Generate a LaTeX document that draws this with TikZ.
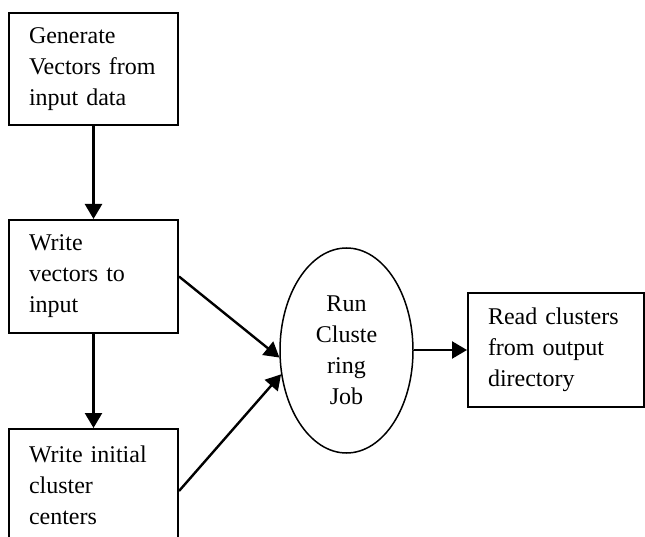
\documentclass[tikz,border=0pt]{standalone}
\usepackage{fontspec}
\setmainfont{Liberation Serif}
\usetikzlibrary{shapes.geometric, positioning, arrows.meta}

\begin{document}
\begin{tikzpicture}[x=1pt, y=-1pt,
  font=\fontsize{24}{31}\selectfont,
  stepbox/.style={draw, line width=2pt, anchor=north west, align=left,
                  text width=129pt, inner xsep=20pt, inner ysep=0pt},
  flow/.style={line width=2.4pt, -{Triangle[length=15pt, width=17pt]}}]

% --- Canvas (same size as the reference page) --------------------------------
\useasboundingbox (0,0) rectangle (645,537);
\clip (0,0) rectangle (645,537);

% ---------- Left column: input preparation ----------
\node[stepbox, minimum height=112pt] (gen) at (8,12)
     {Generate\\ Vectors from\\ input data};
\node[stepbox, minimum height=113pt] (vec) at (8,219)
     {Write\\ vectors to\\ input};
\node[stepbox, minimum height=113pt] (init) at (8,428)
     {Write initial\\ cluster\\ centers};

% ---------- Middle: the clustering job ----------
\node[ellipse, draw, line width=1.5pt, minimum width=133pt, minimum height=205pt,
      inner sep=0pt, align=center] (run) at (346.5,350.5)
     {Run\\ Cluste\\ ring\\ Job};

% ---------- Right: output ----------
\node[stepbox, text width=136pt, minimum height=114pt] (read) at (467,292)
     {Read clusters\\ from output\\ directory};

% Connectors
\draw[flow] (gen.south) -- (vec.north);
\draw[flow] (vec.south) -- (init.north);
\draw[flow] (vec.east) -- (run.186);
\draw[flow] ([yshift=-5.5pt]init.east) -- (run.200);
\draw[flow] (run.east |- read.west) -- (read.west);

\end{tikzpicture}
\end{document}
